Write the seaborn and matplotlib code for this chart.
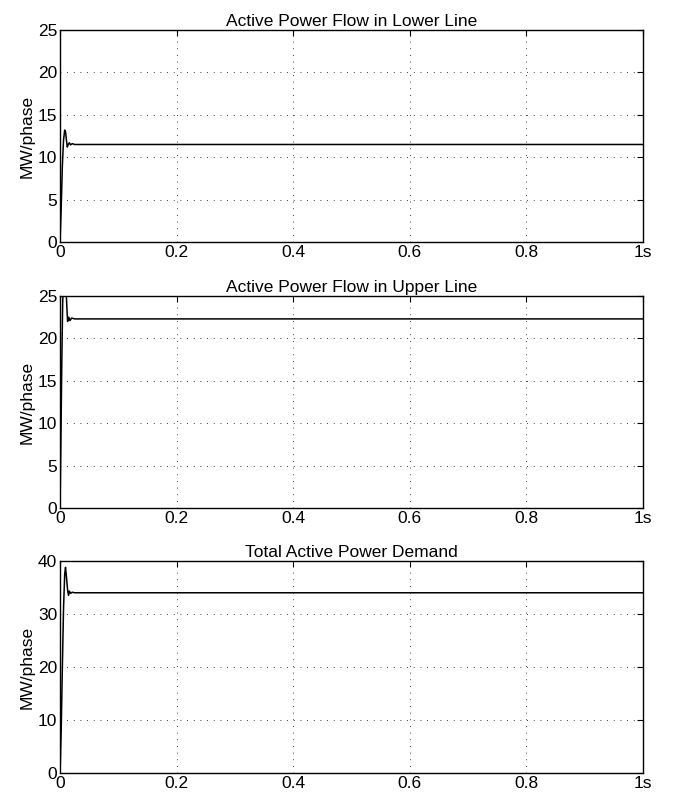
import seaborn as sns
import pandas as pd
import matplotlib
matplotlib.use("Agg")
from matplotlib import pyplot as plt

# DATA ##################################################################
# time points of the start-up transient (s), last point = end of run
t_lower = [0, 0.002, 0.004, 0.006, 0.008, 0.0095, 0.011, 0.0125, 0.014, 0.016, 0.018, 0.021, 0.025, 1.0]
p_lower = [0, 4, 9, 12, 13.2, 13.0, 12.0, 11.2, 11.5, 11.7, 11.45, 11.6, 11.5, 11.5]

t_upper = [0, 0.0015, 0.003, 0.0045, 0.006, 0.008, 0.010, 0.0115, 0.013, 0.015, 0.017, 0.020, 0.025, 1.0]
p_upper = [0, 8, 17, 24, 27.5, 28.5, 26.5, 24.0, 22.0, 22.5, 22.1, 22.4, 22.3, 22.3]

t_total = [0, 0.002, 0.004, 0.006, 0.008, 0.0094, 0.011, 0.013, 0.0146, 0.016, 0.018, 0.021, 0.025, 1.0]
p_total = [0, 8, 20, 31, 37.5, 38.8, 37.0, 34.5, 33.5, 34.3, 33.9, 34.1, 34.0, 34.0]

titles = ["Active Power Flow in Lower Line", "Active Power Flow in Upper Line", "Total Active Power Demand"]
ylims = [25, 25, 40]
ysteps = [5, 5, 10]
xticks = [0, 0.2, 0.4, 0.6, 0.8, 1.0]
xticklabels = ["0", "0.2", "0.4", "0.6", "0.8", "1s"]

# STYLE #################################################################
sns.set_style("white")
plt.rcParams["font.family"] = ["Liberation Sans", "DejaVu Sans"]
plt.rcParams["font.size"] = 12.5
plt.rcParams["text.color"] = "k"
plt.rcParams["axes.labelcolor"] = "k"

fig = plt.figure(figsize=(6.76, 7.94), dpi=100)

# axes boxes (MATLAB subplot layout)
boxes = [[0.0888, 0.6952, 0.8624, 0.267],
         [0.0888, 0.3602, 0.8624, 0.267],
         [0.0888, 0.0265, 0.8624, 0.267]]

series = [(t_lower, p_lower), (t_upper, p_upper), (t_total, p_total)]

for i in range(3):
    ax = fig.add_axes(boxes[i])
    df = pd.DataFrame({"t": series[i][0], "P": series[i][1]})
    sns.lineplot(data=df, x="t", y="P", ax=ax, color="k", linewidth=1.1, sort=False)
    ax.set_xlim(0, 1)
    ax.set_ylim(0, ylims[i])
    ax.set_yticks(range(0, ylims[i] + 1, ysteps[i]))
    ax.set_xticks(xticks)
    ax.set_xticklabels(xticklabels)
    ax.set_xlabel("")
    ax.set_ylabel("MW/phase", labelpad=2)
    ax.set_title(titles[i], fontsize=12.5, pad=3, color="k")
    # dotted MATLAB-like grid
    ax.grid(True, color="k", linestyle=(0, (1, 7)), linewidth=0.6)
    ax.tick_params(direction="in", top=True, right=True, length=4, width=0.8,
                   labelsize=12.5, pad=2, colors="k")
    for s in ax.spines.values():
        s.set_color("k")
        s.set_linewidth(1.0)

fig.savefig("out.png", dpi=100)
